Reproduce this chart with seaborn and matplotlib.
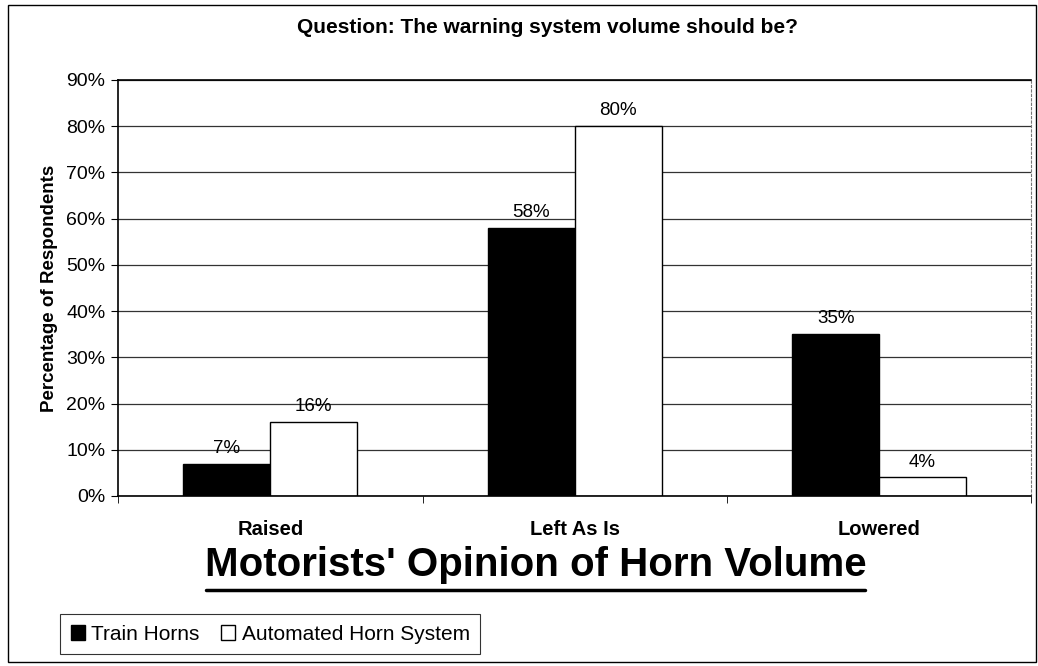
import pandas as pd
import matplotlib.pyplot as plt
import matplotlib.patches as mpatches
from matplotlib.lines import Line2D
import seaborn as sns

sns.set_style("white", {'text.color': 'black', 'axes.labelcolor': 'black',
                        'xtick.color': 'black', 'ytick.color': 'black'})
plt.rcParams['font.family'] = ['Liberation Sans', 'DejaVu Sans']

# data
categories = ['Raised', 'Left As Is', 'Lowered']
train_horns = [7, 58, 35]
automated = [16, 80, 4]
series = ['Train Horns', 'Automated Horn System']

df = pd.DataFrame({
    'answer': categories * 2,
    'pct': train_horns + automated,
    'system': [series[0]] * 3 + [series[1]] * 3,
})

fig = plt.figure(figsize=(10.38, 6.66), dpi=100)
ax = fig.add_axes([0.1137, 0.2553, 0.880, 0.6246])

sns.barplot(data=df, x='answer', y='pct', hue='system', order=categories,
            hue_order=series, palette=['black', 'white'], edgecolor='black',
            linewidth=1, width=0.57, gap=0, ax=ax, legend=False, errorbar=None)

ax.set_ylim(0, 90)
ax.set_xlim(-0.5, 2.5)
ax.set_yticks(range(0, 91, 10))
ax.set_yticklabels([f'{v}%' for v in range(0, 91, 10)], fontsize=14)
ax.yaxis.grid(True, color='#333333', linewidth=0.9)
ax.set_axisbelow(True)
ax.tick_params(axis='y', left=True, length=5, color='black', pad=4)
ax.set_xticks(range(3))
ax.set_xticklabels(categories, fontsize=14.5, fontweight='bold')
ax.tick_params(axis='x', bottom=False, pad=14)
ax.set_xticks([-0.5, 0.5, 1.5, 2.5], minor=True)
ax.tick_params(axis='x', which='minor', bottom=True, length=5, color='black')
ax.set_xlabel('')
ax.set_ylabel('Percentage of Respondents', fontsize=13.5, fontweight='bold', labelpad=6)

for s in ['left', 'bottom', 'top']:
    ax.spines[s].set_color('black')
    ax.spines[s].set_linewidth(1.2)
ax.spines['right'].set_color('#777777')
ax.spines['right'].set_linestyle((0, (2, 2)))
ax.spines['right'].set_linewidth(0.8)

# value labels
for cont in ax.containers:
    ax.bar_label(cont, labels=[f'{v:g}%' for v in cont.datavalues],
                 fontsize=13.5, padding=5)

fig.text(0.527, 0.958, 'Question: The warning system volume should be?',
         ha='center', va='center', fontsize=15, fontweight='bold')

fig.text(0.516, 0.152, "Motorists' Opinion of Horn Volume",
         ha='center', va='center', fontsize=29, fontweight='bold')
fig.add_artist(Line2D([0.198, 0.833], [0.114, 0.114], color='black', linewidth=2.5,
                      transform=fig.transFigure))

handles = [mpatches.Patch(facecolor='black', edgecolor='black', label=series[0]),
           mpatches.Patch(facecolor='white', edgecolor='black', label=series[1])]
leg = fig.legend(handles=handles, loc='center left', bbox_to_anchor=(0.048, 0.048),
                 ncol=2, fontsize=15, frameon=True, fancybox=False,
                 handlelength=0.7, handleheight=0.7, handletextpad=0.3,
                 columnspacing=1.0, borderpad=0.5)
leg.get_frame().set_edgecolor('black')
leg.get_frame().set_linewidth(0.8)

# border round the whole figure
fig.add_artist(mpatches.Rectangle((0.008, 0.006), 0.99, 0.986, fill=False,
                                  edgecolor='black', linewidth=1,
                                  transform=fig.transFigure))

fig.savefig('out.png', dpi=100)
